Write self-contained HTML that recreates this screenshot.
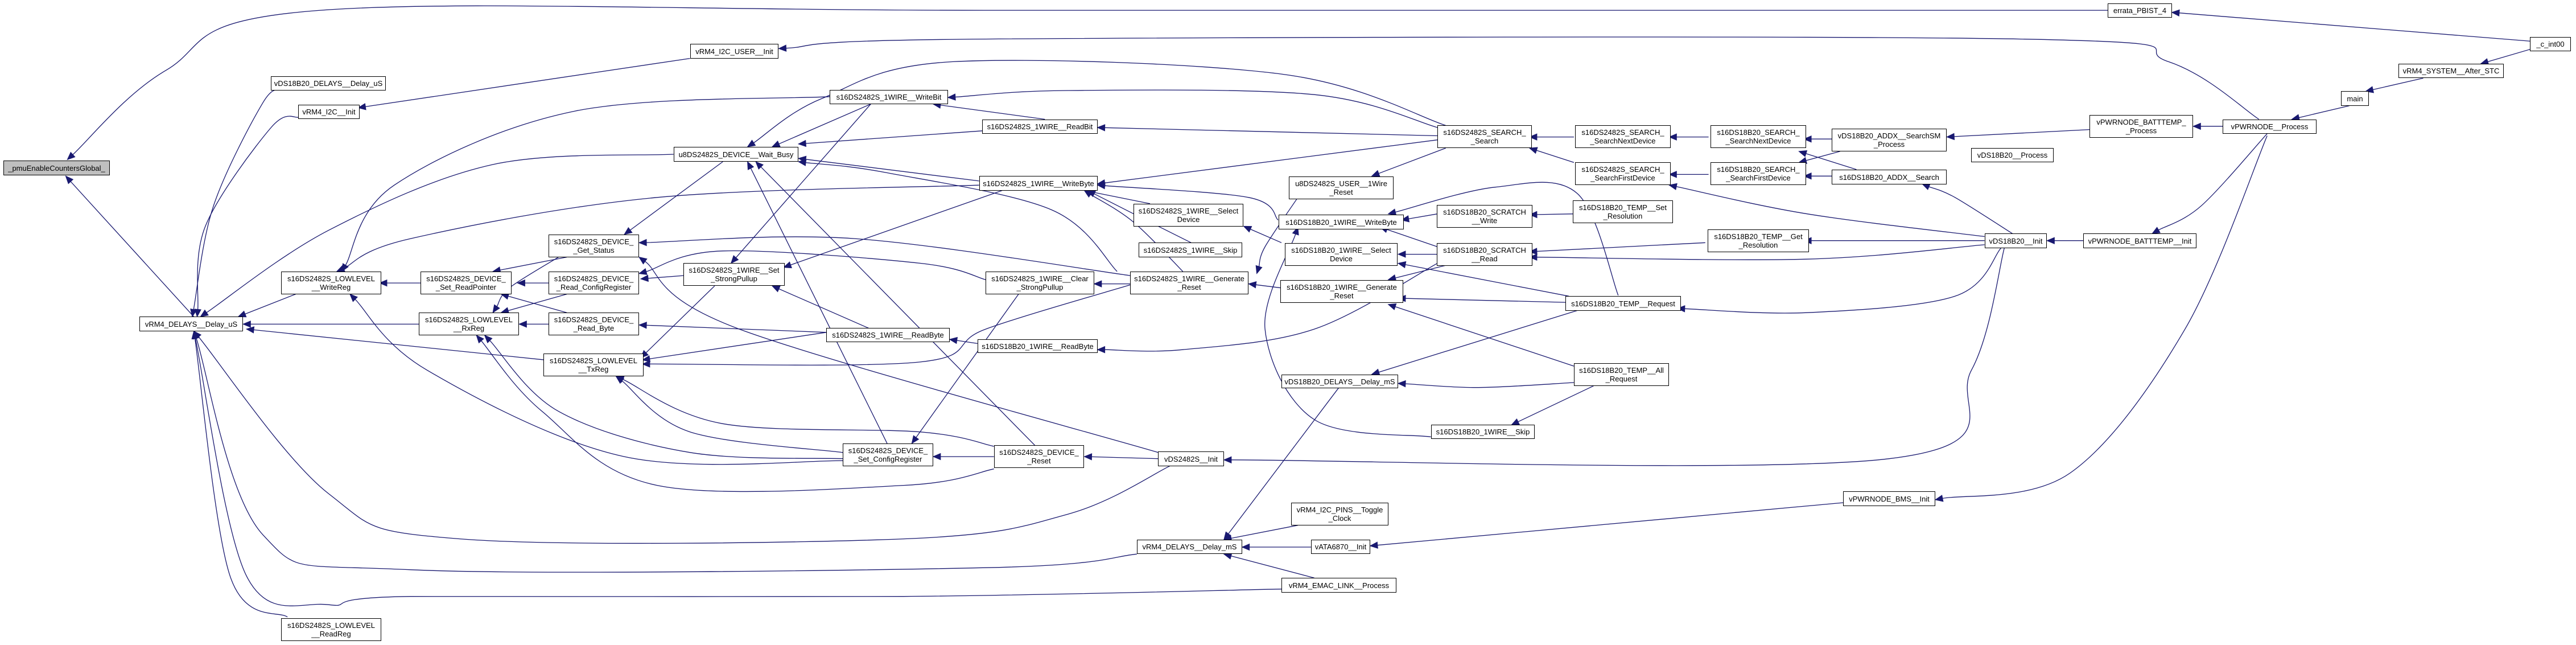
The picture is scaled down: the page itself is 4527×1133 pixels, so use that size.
<!DOCTYPE html>
<html><head><meta charset="utf-8"><style>
html,body{margin:0;padding:0;background:#fff;}
#c{position:relative;width:4527px;height:1133px;overflow:hidden;background:#fff;}
svg{position:absolute;left:0;top:0;}
.n{position:absolute;border:1.5px solid #000;background:#fff;font:13px "Liberation Sans",sans-serif;text-align:center;display:flex;align-items:center;justify-content:center;line-height:15px;box-sizing:border-box;white-space:nowrap;color:#000;}
.g{background:#bfbfbf;}
</style></head><body><div id="c">
<svg id="s" width="4527" height="1133"></svg>
<div class="n g" style="left:6px;top:282px;width:187px;height:26px">_pmuEnableCountersGlobal_</div>
<div class="n" style="left:245px;top:556px;width:182px;height:26px">vRM4_DELAYS__Delay_uS</div>
<div class="n" style="left:476px;top:134px;width:202px;height:25px">vDS18B20_DELAYS__Delay_uS</div>
<div class="n" style="left:524px;top:184px;width:108px;height:25px">vRM4_I2C__Init</div>
<div class="n" style="left:1213px;top:77px;width:155px;height:26px">vRM4_I2C_USER__Init</div>
<div class="n" style="left:494px;top:477px;width:176px;height:40px">s16DS2482S_LOWLEVEL<br>__WriteReg</div>
<div class="n" style="left:494px;top:1086px;width:176px;height:40px">s16DS2482S_LOWLEVEL<br>__ReadReg</div>
<div class="n" style="left:739px;top:477px;width:160px;height:40px">s16DS2482S_DEVICE_<br>_Set_ReadPointer</div>
<div class="n" style="left:736px;top:549px;width:176px;height:40px">s16DS2482S_LOWLEVEL<br>__RxReg</div>
<div class="n" style="left:964px;top:412px;width:159px;height:40px">s16DS2482S_DEVICE_<br>_Get_Status</div>
<div class="n" style="left:964px;top:477px;width:159px;height:40px">s16DS2482S_DEVICE_<br>_Read_ConfigRegister</div>
<div class="n" style="left:964px;top:549px;width:159px;height:40px">s16DS2482S_DEVICE_<br>_Read_Byte</div>
<div class="n" style="left:955px;top:621px;width:176px;height:40px">s16DS2482S_LOWLEVEL<br>__TxReg</div>
<div class="n" style="left:1184px;top:258px;width:219px;height:26px">u8DS2482S_DEVICE__Wait_Busy</div>
<div class="n" style="left:1458px;top:158px;width:208px;height:25px">s16DS2482S_1WIRE__WriteBit</div>
<div class="n" style="left:1726px;top:210px;width:203px;height:25px">s16DS2482S_1WIRE__ReadBit</div>
<div class="n" style="left:1721px;top:309px;width:208px;height:26px">s16DS2482S_1WIRE__WriteByte</div>
<div class="n" style="left:1201px;top:462px;width:178px;height:40px">s16DS2482S_1WIRE__Set<br>_StrongPullup</div>
<div class="n" style="left:1452px;top:576px;width:217px;height:25px">s16DS2482S_1WIRE__ReadByte</div>
<div class="n" style="left:1481px;top:779px;width:159px;height:40px">s16DS2482S_DEVICE_<br>_Set_ConfigRegister</div>
<div class="n" style="left:1747px;top:782px;width:158px;height:40px">s16DS2482S_DEVICE_<br>_Reset</div>
<div class="n" style="left:1732px;top:477px;width:191px;height:40px">s16DS2482S_1WIRE__Clear<br>_StrongPullup</div>
<div class="n" style="left:1986px;top:477px;width:208px;height:40px">s16DS2482S_1WIRE__Generate<br>_Reset</div>
<div class="n" style="left:1992px;top:358px;width:193px;height:40px">s16DS2482S_1WIRE__Select<br>Device</div>
<div class="n" style="left:2001px;top:426px;width:182px;height:26px">s16DS2482S_1WIRE__Skip</div>
<div class="n" style="left:2035px;top:793px;width:116px;height:26px">vDS2482S__Init</div>
<div class="n" style="left:2526px;top:220px;width:166px;height:40px">s16DS2482S_SEARCH_<br>_Search</div>
<div class="n" style="left:2265px;top:310px;width:184px;height:40px">u8DS2482S_USER__1Wire<br>_Reset</div>
<div class="n" style="left:2247px;top:377px;width:220px;height:26px">s16DS18B20_1WIRE__WriteByte</div>
<div class="n" style="left:2258px;top:427px;width:198px;height:40px">s16DS18B20_1WIRE__Select<br>Device</div>
<div class="n" style="left:2250px;top:492px;width:216px;height:40px">s16DS18B20_1WIRE__Generate<br>_Reset</div>
<div class="n" style="left:1718px;top:596px;width:211px;height:24px">s16DS18B20_1WIRE__ReadByte</div>
<div class="n" style="left:2252px;top:658px;width:205px;height:24px">vDS18B20_DELAYS__Delay_mS</div>
<div class="n" style="left:2515px;top:746px;width:182px;height:25px">s16DS18B20_1WIRE__Skip</div>
<div class="n" style="left:2525px;top:360px;width:168px;height:40px">s16DS18B20_SCRATCH<br>__Write</div>
<div class="n" style="left:2525px;top:427px;width:168px;height:40px">s16DS18B20_SCRATCH<br>__Read</div>
<div class="n" style="left:2751px;top:520px;width:203px;height:26px">s16DS18B20_TEMP__Request</div>
<div class="n" style="left:2766px;top:638px;width:167px;height:40px">s16DS18B20_TEMP__All<br>_Request</div>
<div class="n" style="left:2764px;top:352px;width:176px;height:40px">s16DS18B20_TEMP__Set<br>_Resolution</div>
<div class="n" style="left:3001px;top:403px;width:178px;height:40px">s16DS18B20_TEMP__Get<br>_Resolution</div>
<div class="n" style="left:2768px;top:220px;width:168px;height:40px">s16DS2482S_SEARCH_<br>_SearchNextDevice</div>
<div class="n" style="left:2768px;top:285px;width:168px;height:40px">s16DS2482S_SEARCH_<br>_SearchFirstDevice</div>
<div class="n" style="left:3006px;top:220px;width:168px;height:40px">s16DS18B20_SEARCH_<br>_SearchNextDevice</div>
<div class="n" style="left:3006px;top:285px;width:168px;height:40px">s16DS18B20_SEARCH_<br>_SearchFirstDevice</div>
<div class="n" style="left:3219px;top:226px;width:202px;height:40px">vDS18B20_ADDX__SearchSM<br>_Process</div>
<div class="n" style="left:3464px;top:260px;width:145px;height:25px">vDS18B20__Process</div>
<div class="n" style="left:3219px;top:298px;width:202px;height:26px">s16DS18B20_ADDX__Search</div>
<div class="n" style="left:3488px;top:410px;width:109px;height:26px">vDS18B20__Init</div>
<div class="n" style="left:3672px;top:202px;width:182px;height:40px">vPWRNODE_BATTTEMP_<br>_Process</div>
<div class="n" style="left:3906px;top:210px;width:165px;height:25px">vPWRNODE__Process</div>
<div class="n" style="left:3661px;top:410px;width:199px;height:26px">vPWRNODE_BATTTEMP__Init</div>
<div class="n" style="left:3239px;top:863px;width:162px;height:26px">vPWRNODE_BMS__Init</div>
<div class="n" style="left:3704px;top:6px;width:113px;height:25px">errata_PBIST_4</div>
<div class="n" style="left:4446px;top:65px;width:72px;height:25px">_c_int00</div>
<div class="n" style="left:4215px;top:112px;width:185px;height:25px">vRM4_SYSTEM__After_STC</div>
<div class="n" style="left:4114px;top:160px;width:49px;height:26px">main</div>
<div class="n" style="left:1998px;top:948px;width:185px;height:25px">vRM4_DELAYS__Delay_mS</div>
<div class="n" style="left:2269px;top:883px;width:171px;height:40px">vRM4_I2C_PINS__Toggle<br>_Clock</div>
<div class="n" style="left:2304px;top:948px;width:104px;height:25px">vATA6870__Init</div>
<div class="n" style="left:2252px;top:1015px;width:202px;height:26px">vRM4_EMAC_LINK__Process</div>
</div>
<script>
var E=[
[[1283,25],[600,25],[195,25],[101,171],[41,388]],
[[118,770],[40,428]],
[[1540,100],[1322,30]],
[[1375,290],[1320,150],[1230,95],[600,95],[474,118]],
[[420,142],[218,262]],
[[172,218],[160,250],[130,500],[117,770]],
[[182,285],[165,310],[125,550],[120,770]],
[[180,715],[145,770]],
[[256,688],[231,688]],
[[255,788],[148,788]],
[[332,875],[150,800]],
[[175,1500],[140,1400],[118,805]],
[[410,375],[300,400],[200,560],[122,770]],
[[596,450],[400,480],[250,580],[205,660]],
[[505,235],[350,270],[240,450],[208,660]],
[[345,625],[300,660]],
[[334,688],[315,688]],
[[345,760],[305,715]],
[[334,788],[316,788]],
[[340,625],[310,700],[300,760]],
[[345,715],[305,760]],
[[416,670],[390,678]],
[[435,695],[390,870]],
[[503,808],[389,790]],
[[503,808],[391,875]],
[[513,1100],[420,1050],[375,915]],
[[605,1085],[560,1050],[440,1030],[375,915]],
[[513,1115],[420,1100],[340,1000],[295,815]],
[[605,1140],[550,1180],[400,1180],[330,1000],[290,815]],
[[605,1110],[568,1110]],
[[705,1115],[660,1110]],
[[712,1133],[650,1250],[550,1310],[280,1310],[200,1200],[118,805]],
[[513,1120],[380,1110],[260,900],[213,715]],
[[688,670],[520,580],[389,590]],
[[680,660],[640,510],[540,420],[486,393]],
[[688,690],[666,690]],
[[690,690],[600,800],[560,880],[391,885]],
[[600,680],[560,640],[440,610],[389,665]],
[[620,715],[555,1078]],
[[530,253],[470,357]],
[[636,290],[568,253]],
[[598,318],[486,350]],
[[875,310],[800,230],[650,220],[577,237]],
[[875,330],[668,310]],
[[875,340],[668,447]],
[[880,305],[780,180],[580,150],[500,240],[455,357]],
[[596,440],[486,385]],
[[610,463],[477,650]],
[[700,495],[660,463]],
[[725,590],[700,540],[662,463]],
[[778,535],[760,480],[668,450]],
[[530,253],[445,640]],
[[530,800],[470,695]],
[[440,393],[380,570]],
[[540,1078],[455,393]],
[[630,1083],[460,393]],
[[705,1100],[450,800],[389,625]],
[[780,700],[760,690]],
[[780,590],[757,550]],
[[875,520],[853,535]],
[[875,600],[840,552]],
[[875,618],[851,618]],
[[880,645],[845,680]],
[[953,735],[851,725]],
[[955,720],[851,640]],
[[985,718],[960,470],[910,455],[845,520]],
[[958,890],[845,740]],
[[958,930],[900,942],[851,932]],
[[970,938],[920,1033]],
[[960,755],[835,910]],
[[1038,590],[931,612]],
[[958,520],[931,522]],
[[1208,585],[1098,585]],
[[1208,595],[1100,630],[931,625]],
[[1218,603],[1190,720],[1100,760],[1021,750]],
[[1208,575],[1100,520],[1016,450]],
[[1225,568],[1190,480],[1170,447]],
[[1220,603],[1200,900],[1150,1115],[745,1118]],
[[1268,585],[1246,585]],
[[1380,325],[1340,500],[1310,568]],
[[1353,307],[1335,307]],
[[1272,315],[1185,333]],
[[1430,257],[1395,290]],
[[1475,190],[1440,222]],
[[1540,120],[1510,155]],
[[1115,338],[1098,338]],
[[1120,368],[1095,395]],
[[1115,428],[1098,428]],
[[1130,412],[1095,368]],
[[1040,333],[1016,333]],
[[1040,424],[1016,424]],
[[958,333],[931,333]],
[[958,395],[931,360]],
[[880,360],[835,428]],
[[790,480],[770,600],[765,665]],
[[1380,330],[1330,800],[1260,1150],[1178,1215]],
[[1122,1222],[834,1327]],
[[798,1330],[756,1330]],
[[790,1277],[745,1312]],
[[800,1405],[745,1347]],
[[692,1347],[600,1380],[250,1385],[160,1300],[118,805]],
[[780,1432],[550,1450],[250,1450],[200,1470],[150,1400],[118,805]],
[[815,942],[745,1312]],
[[871,1062],[800,1020],[770,800],[790,552]],
[[875,640],[800,800],[720,850],[668,850]],
[[595,835],[578,825]],
[[720,660],[690,540],[660,463]]
];
var sx=4527/1568,sy=1133/1568,s=document.getElementById('s'),NS='http://www.w3.org/2000/svg',C='#191970';
E.forEach(function(e){
 var p=e.map(function(q){return [q[0]*sx,q[1]*sy];});
 var n=p.length,a=p[n-1],b=p[n-2],dx=a[0]-b[0],dy=a[1]-b[1],L=Math.hypot(dx,dy)||1;dx/=L;dy/=L;
 var h=13,w=5.5,e2=[a[0]-dx*h,a[1]-dy*h];
 var pts=p.slice(0,n-1).concat([e2]);
 var d='M'+pts[0][0].toFixed(1)+','+pts[0][1].toFixed(1);
 if(pts.length==2){d+=' L'+pts[1][0].toFixed(1)+','+pts[1][1].toFixed(1);}
 else{for(var i=0;i<pts.length-1;i++){var p0=pts[i-1]||pts[i],p1=pts[i],p2=pts[i+1],p3=pts[i+2]||p2;
  var c1=[p1[0]+(p2[0]-p0[0])/6,p1[1]+(p2[1]-p0[1])/6],c2=[p2[0]-(p3[0]-p1[0])/6,p2[1]-(p3[1]-p1[1])/6];
  d+=' C'+c1[0].toFixed(1)+','+c1[1].toFixed(1)+' '+c2[0].toFixed(1)+','+c2[1].toFixed(1)+' '+p2[0].toFixed(1)+','+p2[1].toFixed(1);}}
 var pa=document.createElementNS(NS,'path');pa.setAttribute('d',d);pa.setAttribute('fill','none');pa.setAttribute('stroke',C);pa.setAttribute('stroke-width','1.3');s.appendChild(pa);
 var t=document.createElementNS(NS,'polygon');
 t.setAttribute('points',a[0]+','+a[1]+' '+(e2[0]-dy*w)+','+(e2[1]+dx*w)+' '+(e2[0]+dy*w)+','+(e2[1]-dx*w));
 t.setAttribute('fill',C);t.setAttribute('stroke',C);s.appendChild(t);
});
</script>
</body></html>
